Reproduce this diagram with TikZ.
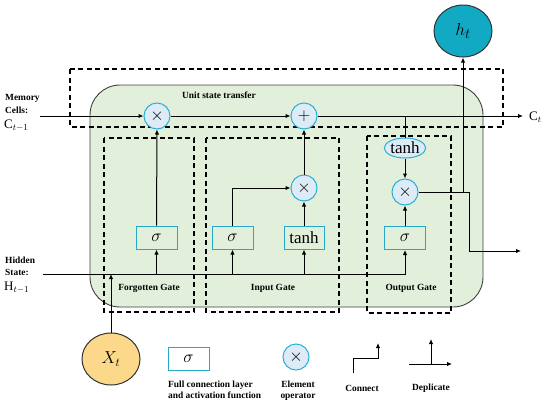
\documentclass[tikz,border=0pt]{standalone}
\usepackage{fontspec}
\setmainfont{Liberation Serif}
\usetikzlibrary{arrows.meta,shapes.geometric}
\definecolor{cellgreen}{HTML}{E2EFDA}
\definecolor{opblue}{HTML}{DDEBF7}
\definecolor{cyanline}{HTML}{2AAFD6}
\definecolor{boxline}{HTML}{28A8C8}
\definecolor{xtfill}{HTML}{FCD98A}
\definecolor{htfill}{HTML}{12A9C4}
\tikzset{
  arr/.style={-{Latex[length=5pt,width=4.5pt]}, line width=1pt},
  conn/.style={line width=1pt},
  gatebox/.style={line width=1.2pt, dash pattern=on 5pt off 3.5pt},
  op/.style={circle, draw=cyanline, line width=1pt, fill=opblue, minimum size=26pt, inner sep=0pt, font=\fontsize{17}{17}\selectfont},
  fcbox/.style={rectangle, draw=boxline, line width=1pt, minimum width=41pt, minimum height=23pt, inner sep=0pt, font=\fontsize{19}{19}\selectfont},
  tanhfont/.style={font=\fontsize{17}{17}\selectfont},
  lbl/.style={font=\bfseries\fontsize{9.4}{10.5}\selectfont, inner sep=0pt},
  mathlbl/.style={font=\fontsize{13}{13}\selectfont, inner sep=0pt},
}
\begin{document}
\begin{tikzpicture}[x=1pt,y=-1pt]
\useasboundingbox (0,0) rectangle (550,408);
% cell body
\draw[fill=cellgreen, draw=black!75, line width=0.9pt, rounded corners=30pt] (90,85) rectangle (483,307);
% dashed boxes
\draw[gatebox] (70,69) rectangle (503,127);
\draw[gatebox] (104,138) rectangle (194,312);
\draw[gatebox] (206,138) rectangle (339,312);
\draw[gatebox] (367,136) rectangle (451,313);
% operators
\node[op] (c1) at (157,116) {$\times$};
\node[op] (cplus) at (304,116) {$+$};
\node[op] (m2) at (304,188) {$\times$};
\node[op] (m3) at (405,192) {$\times$};
% fc boxes
\node[fcbox] (fsig) at (156.5,237.5) {$\sigma$};
\node[fcbox] (isig) at (232.5,237.5) {$\sigma$};
\node[fcbox, tanhfont, minimum width=40pt] (itanh) at (304,237.5) {tanh};
\node[fcbox] (osig) at (405,238) {$\sigma$};
\node[ellipse, draw=cyanline, fill=opblue, line width=1pt, minimum width=41pt, minimum height=20pt, inner sep=0pt, tanhfont] (otanh) at (405,148) {tanh};
% inputs / outputs
\node[ellipse, draw=black!80, line width=1pt, fill=htfill, minimum width=58pt, minimum height=52pt, inner sep=0pt, font=\fontsize{19}{19}\selectfont] (ht) at (463,31) {$h_t$};
\node[ellipse, draw=black!80, line width=1pt, fill=xtfill, minimum width=58pt, minimum height=52pt, inner sep=0pt, font=\fontsize{18}{18}\selectfont] (xt) at (111,359) {$X_t$};
\coordinate (cin) at (40,116);
\coordinate (cout) at (523,116);
\coordinate (hin) at (43,274);
\coordinate (hturn) at (469,192);
\coordinate (hout) at (521,251);
% cell state line
\draw[arr] (cin) -- (c1);
\draw[arr] (c1) -- (cplus);
\draw[arr] (cplus) -- (cout);
\draw[conn] (otanh.north |- cplus.center) -- (otanh.north);
\draw[arr] (otanh) -- (m3);
% hidden line
\draw[arr] (hin) -| (osig.south);
\draw[arr] (xt.north) -- (xt.north |- hin);
\draw[arr] (fsig.south |- hin) -- (fsig.south);
\draw[arr] (isig.south |- hin) -- (isig.south);
\draw[arr] (itanh.south |- hin) -- (itanh.south);
% gates
\draw[arr] (fsig) -- (c1);
\draw[arr] (isig.north) |- (m2.west);
\draw[arr] (itanh) -- (m2);
\draw[arr] (m2) -- (cplus);
\draw[arr] (osig) -- (m3);
\draw[arr] (m3.east) -- (hturn) |- (hout);
\draw[arr] (ht.south |- m3) -- (ht.south);
% labels
\node[lbl, anchor=west] (lmem) at (5,98) {Memory};
\node[lbl, anchor=west] (lcells) at (5,110) {Cells:};
\node[mathlbl, anchor=west] (lct1) at (4,126) {$\mathrm{C}_{t-1}$};
\node[mathlbl, anchor=west] (lct) at (529,117) {$\mathrm{C}_{t}$};
\node[lbl, anchor=west] (lhid) at (5,260) {Hidden};
\node[lbl, anchor=west] (lstate) at (5,272) {State:};
\node[mathlbl, anchor=west] (lht1) at (4,288) {$\mathrm{H}_{t-1}$};
\node[lbl, anchor=west] (lunit) at (182,95) {Unit state transfer};
\node[lbl] (lforg) at (149,288) {Forgotten Gate};
\node[lbl] (linp) at (273,288) {Input Gate};
\node[lbl] (lout) at (411,288) {Output Gate};
% legend
\node[fcbox, fill=white] (legsig) at (188.5,358.5) {$\sigma$};
\node[lbl, anchor=north west, align=left] (legfc) at (168,381) {Full connection layer\\and activation function};
\node[op] (legop) at (296,357) {$\times$};
\node[lbl, align=center, anchor=north] (legel) at (298,381) {Element\\operator};
\coordinate (ca) at (353,373);
\coordinate (cb) at (353,358);
\coordinate (cc) at (378,358);
\coordinate (cd) at (378,343);
\draw[arr] (ca) -- (cb) -- (cc) -- (cd);
\node[lbl] (legcon) at (362,388) {Connect};
\coordinate (da) at (409,364);
\coordinate (db) at (452,364);
\coordinate (dc) at (431,364);
\coordinate (dd) at (431,339);
\draw[arr] (da) -- (db);
\draw[arr] (dc) -- (dd);
\node[lbl] (legdep) at (431,388) {Deplicate};
\end{tikzpicture}
\end{document}
